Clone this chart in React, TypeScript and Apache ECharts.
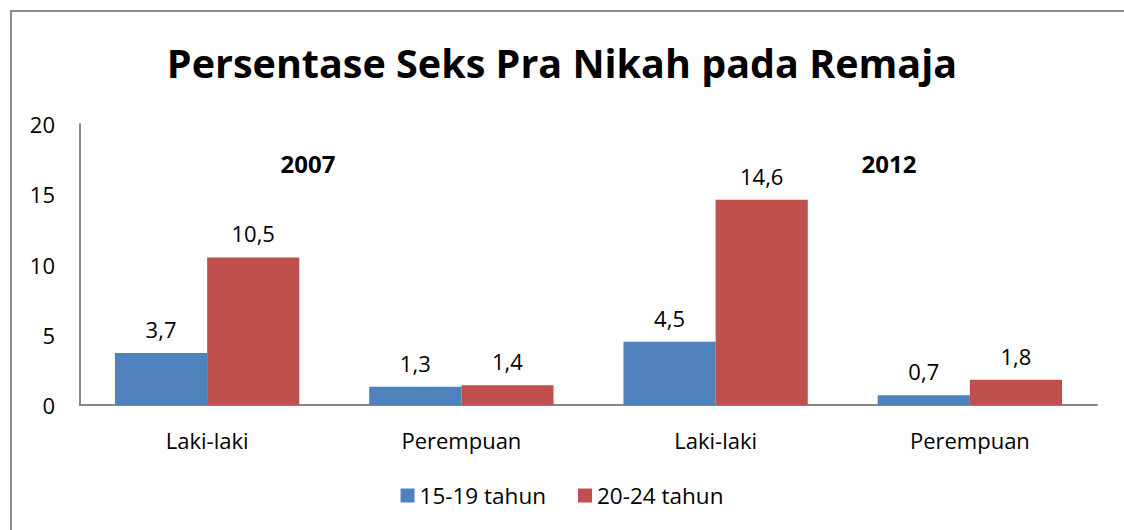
import React, { useEffect, useRef } from "react";
import * as echarts from "echarts";

const categories = ["Laki-laki", "Perempuan", "Laki-laki", "Perempuan"];
const seriesNames = ["15-19 tahun", "20-24 tahun"];
const values1519 = [3.7, 1.3, 4.5, 0.7];
const values2024 = [10.5, 1.4, 14.6, 1.8];
const yearLabels = ["2007", "2012"];
const titleText = "Persentase Seks Pra Nikah pada Remaja";

const FONT = "'Open Sans', 'Noto Sans', sans-serif";

export default function App() {
  const ref = useRef<HTMLDivElement>(null);
  useEffect(() => {
    if (!ref.current) return;
    const chart = echarts.init(ref.current, undefined, { renderer: "svg" });
    const fmt = (p: any) => String(p.value).replace(".", ",");
    chart.setOption({
      animation: false,
      backgroundColor: "#ffffff",
      title: {
        text: titleText,
        left: "center",
        top: 38,
        textStyle: { fontFamily: FONT, fontWeight: "bold", fontSize: 39.5, color: "#000" },
      },
      grid: { left: 80, right: 27, top: 124, bottom: 125, containLabel: false },
      legend: {
        bottom: 18,
        left: "center",
        itemWidth: 14,
        itemHeight: 14,
        itemGap: 32,
        icon: "rect",
        textStyle: { fontFamily: FONT, fontSize: 22.5, color: "#000" },
        data: seriesNames,
      },
      xAxis: {
        type: "category",
        data: categories,
        axisLine: { lineStyle: { color: "#868686", width: 2 } },
        axisTick: { show: false },
        axisLabel: { fontFamily: FONT, fontSize: 22, color: "#000", margin: 24 },
      },
      yAxis: {
        type: "value",
        min: 0,
        max: 20,
        interval: 5,
        splitLine: { show: false },
        axisLine: { show: true, lineStyle: { color: "#868686", width: 2 } },
        axisTick: { show: false },
        axisLabel: { fontFamily: FONT, fontSize: 22, color: "#000", margin: 25, align: "right" },
      },
      graphic: [
        {
          type: "rect",
          shape: { x: 11, y: 11, width: 1300, height: 700 },
          style: { fill: "none", stroke: "#8c8c8c", lineWidth: 2 },
        },
        {
          type: "text",
          x: 308,
          y: 163,
          style: { text: yearLabels[0], font: `bold 24px ${FONT}`, fill: "#000", align: "center", verticalAlign: "middle" },
        },
        {
          type: "text",
          x: 889,
          y: 163,
          style: { text: yearLabels[1], font: `bold 24px ${FONT}`, fill: "#000", align: "center", verticalAlign: "middle" },
        },
      ],
      series: [
        {
          name: seriesNames[0],
          type: "bar",
          data: values1519,
          barGap: "0%",
          barCategoryGap: "27.5%",
          itemStyle: { color: "#4f81bd" },
          label: { show: true, position: "top", distance: 13, formatter: fmt, fontFamily: FONT, fontSize: 22, color: "#000" },
        },
        {
          name: seriesNames[1],
          type: "bar",
          data: values2024,
          barGap: "0%",
          barCategoryGap: "27.5%",
          itemStyle: { color: "#c0504d" },
          label: { show: true, position: "top", distance: 13, formatter: fmt, fontFamily: FONT, fontSize: 22, color: "#000" },
        },
      ],
    });
    return () => chart.dispose();
  }, []);
  return (
    <div
      ref={ref}
      style={{ position: "fixed", left: 0, top: 0, width: 1124, height: 530 }}
    />
  );
}
